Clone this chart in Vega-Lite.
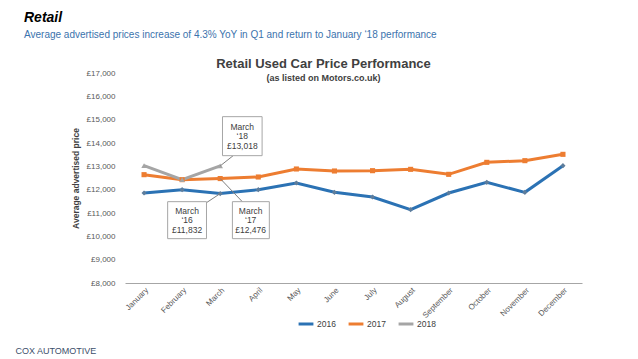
{
  "$schema": "https://vega.github.io/schema/vega-lite/v6.json",
  "background": "white",
  "autosize": {"type": "none"},
  "padding": {"left": 125, "top": 73, "right": 513, "bottom": 286},
  "title": {
    "text": "Retail",
    "subtitle": "Average advertised prices increase of 4.3% YoY in Q1 and return to January ‘18 performance",
    "anchor": "start",
    "dx": 9,
    "font": "Liberation Sans",
    "fontSize": 14,
    "fontStyle": "italic",
    "fontWeight": "bold",
    "color": "#000000",
    "subtitleFont": "Liberation Sans",
    "subtitleFontSize": 10,
    "subtitleColor": "#3b73ad",
    "subtitlePadding": 5,
    "offset": 18
  },
  "config": {
    "view": {"stroke": null},
    "font": "Liberation Sans",
    "axisY": {"labelOverlap": false}
  },
  "datasets": {
    "prices": [
      {"m": 0, "year": "2016", "price": 11857},
      {"m": 1, "year": "2016", "price": 12000},
      {"m": 2, "year": "2016", "price": 11832},
      {"m": 3, "year": "2016", "price": 12000},
      {"m": 4, "year": "2016", "price": 12286},
      {"m": 5, "year": "2016", "price": 11886},
      {"m": 6, "year": "2016", "price": 11686},
      {"m": 7, "year": "2016", "price": 11143},
      {"m": 8, "year": "2016", "price": 11857},
      {"m": 9, "year": "2016", "price": 12314},
      {"m": 10, "year": "2016", "price": 11886},
      {"m": 11, "year": "2016", "price": 13029},
      {"m": 0, "year": "2017", "price": 12643},
      {"m": 1, "year": "2017", "price": 12429},
      {"m": 2, "year": "2017", "price": 12476},
      {"m": 3, "year": "2017", "price": 12543},
      {"m": 4, "year": "2017", "price": 12886},
      {"m": 5, "year": "2017", "price": 12800},
      {"m": 6, "year": "2017", "price": 12814},
      {"m": 7, "year": "2017", "price": 12871},
      {"m": 8, "year": "2017", "price": 12657},
      {"m": 9, "year": "2017", "price": 13171},
      {"m": 10, "year": "2017", "price": 13243},
      {"m": 11, "year": "2017", "price": 13514},
      {"m": 0, "year": "2018", "price": 13029},
      {"m": 1, "year": "2018", "price": 12429},
      {"m": 2, "year": "2018", "price": 13018}
    ],
    "boxes": [
      {"label": "March\n‘18\n£13,018", "x0": 2.06, "x1": 3.1, "y0": 13457, "y1": 15129, "xc": 2.58, "yc": 14700, "lx": 2.34, "ly": 13457, "px": 2, "py": 13018},
      {"label": "March\n‘16\n£11,832", "x0": 0.62, "x1": 1.64, "y0": 9900, "y1": 11486, "xc": 1.13, "yc": 11100, "lx": 1.64, "ly": 11443, "px": 2, "py": 11832},
      {"label": "March\n‘17\n£12,476", "x0": 2.32, "x1": 3.29, "y0": 9900, "y1": 11486, "xc": 2.8, "yc": 11100, "lx": 2.58, "ly": 11486, "px": 2, "py": 12476}
    ]
  },
  "vconcat": [
    {
      "width": 457,
      "height": 210,
      "title": {
        "text": "Retail Used Car Price Performance",
        "subtitle": "(as listed on Motors.co.uk)",
        "anchor": "middle",
        "dx": -30,
        "offset": -14,
        "font": "Liberation Sans",
        "fontSize": 13,
        "fontWeight": "bold",
        "color": "#404040",
        "subtitleFont": "Liberation Sans",
        "subtitleFontSize": 9,
        "subtitleFontWeight": "bold",
        "subtitleColor": "#404040",
        "subtitlePadding": 3
      },
      "layer": [
        {
          "data": {"name": "prices"},
          "mark": {"type": "line", "strokeWidth": 3},
          "encoding": {
            "x": {
              "field": "m", "type": "quantitative",
              "scale": {"domain": [-0.5, 11.5], "nice": false, "zero": false},
              "axis": {
                "values": [0, 1, 2, 3, 4, 5, 6, 7, 8, 9, 10, 11],
                "tickCount": 12,
                "labelExpr": "['January','February','March','April','May','June','July','August','September','October','November','December'][datum.value]",
                "labelAngle": -45,
                "labelAlign": "right",
                "labelBaseline": "top",
                "labelFontSize": 8,
                "labelColor": "#595959",
                "labelPadding": 3,
                "labelOverlap": false,
                "ticks": false,
                "grid": false,
                "domainColor": "#a6a6a6",
                "title": "COX AUTOMOTIVE",
                "titleX": -110,
                "titleY": 67,
                "titleAlign": "left",
                "titleBaseline": "middle",
                "titleAngle": 0,
                "titleFontSize": 9,
                "titleFontWeight": "normal",
                "titleColor": "#3d4f6b"
              }
            },
            "y": {
              "field": "price", "type": "quantitative",
              "scale": {"domain": [8000, 17000], "nice": false, "zero": false},
              "axis": {
                "values": [8000, 9000, 10000, 11000, 12000, 13000, 14000, 15000, 16000, 17000],
                "tickCount": 10,
                "labelExpr": "'£' + format(datum.value, ',')",
                "labelFontSize": 8,
                "labelColor": "#595959",
                "labelPadding": 10,
                "labelOverlap": false,
                "labelFlush": false,
                "ticks": false,
                "domain": false,
                "grid": false,
                "title": "Average advertised price",
                "titleFontSize": 8.5,
                "titleFontWeight": "bold",
                "titleColor": "#404040",
                "titlePadding": 6
              }
            },
            "color": {
              "field": "year", "type": "nominal",
              "scale": {"domain": ["2016", "2017", "2018"], "range": ["#2b72b4", "#ed7d31", "#a5a5a5"]},
              "legend": {
                "title": null,
                "orient": "none",
                "legendX": 172,
                "legendY": 242,
                "direction": "horizontal",
                "symbolType": "stroke",
                "symbolStrokeWidth": 3,
                "symbolSize": 220,
                "labelFontSize": 8.5,
                "labelColor": "#404040",
                "columnPadding": 6,
                "labelOffset": 2
              }
            }
          }
        },
        {
          "data": {"name": "prices"},
          "transform": [{"filter": "datum.year == '2016'"}],
          "mark": {"type": "point", "filled": true, "size": 26, "opacity": 1, "shape": "diamond", "color": "#5e7d9c"},
          "encoding": {
            "x": {"field": "m", "type": "quantitative"},
            "y": {"field": "price", "type": "quantitative"}
          }
        },
        {
          "data": {"name": "prices"},
          "transform": [{"filter": "datum.year == '2017'"}],
          "mark": {"type": "point", "filled": true, "size": 26, "opacity": 1, "shape": "square", "color": "#ed7d31"},
          "encoding": {
            "x": {"field": "m", "type": "quantitative"},
            "y": {"field": "price", "type": "quantitative"}
          }
        },
        {
          "data": {"name": "prices"},
          "transform": [{"filter": "datum.year == '2018'"}],
          "mark": {"type": "point", "filled": true, "size": 30, "opacity": 1, "shape": "triangle-up", "color": "#a5a5a5"},
          "encoding": {
            "x": {"field": "m", "type": "quantitative"},
            "y": {"field": "price", "type": "quantitative"}
          }
        },
        {
          "data": {"name": "boxes"},
          "mark": {"type": "rule", "color": "#7f7f7f", "strokeWidth": 1},
          "encoding": {
            "x": {"field": "lx", "type": "quantitative"},
            "y": {"field": "ly", "type": "quantitative"},
            "x2": {"field": "px"},
            "y2": {"field": "py"}
          }
        },
        {
          "data": {"name": "boxes"},
          "mark": {"type": "rect", "fill": "white", "stroke": "#a6a6a6", "strokeWidth": 1},
          "encoding": {
            "x": {"field": "x0", "type": "quantitative"},
            "x2": {"field": "x1"},
            "y": {"field": "y0", "type": "quantitative"},
            "y2": {"field": "y1"}
          }
        },
        {
          "data": {"name": "boxes"},
          "mark": {"type": "text", "lineBreak": "\n", "fontSize": 8.5, "lineHeight": 9.5, "color": "#404040", "align": "center", "baseline": "middle"},
          "encoding": {
            "x": {"field": "xc", "type": "quantitative"},
            "y": {"field": "yc", "type": "quantitative"},
            "text": {"field": "label"}
          }
        }
      ]
    }
  ]
}
